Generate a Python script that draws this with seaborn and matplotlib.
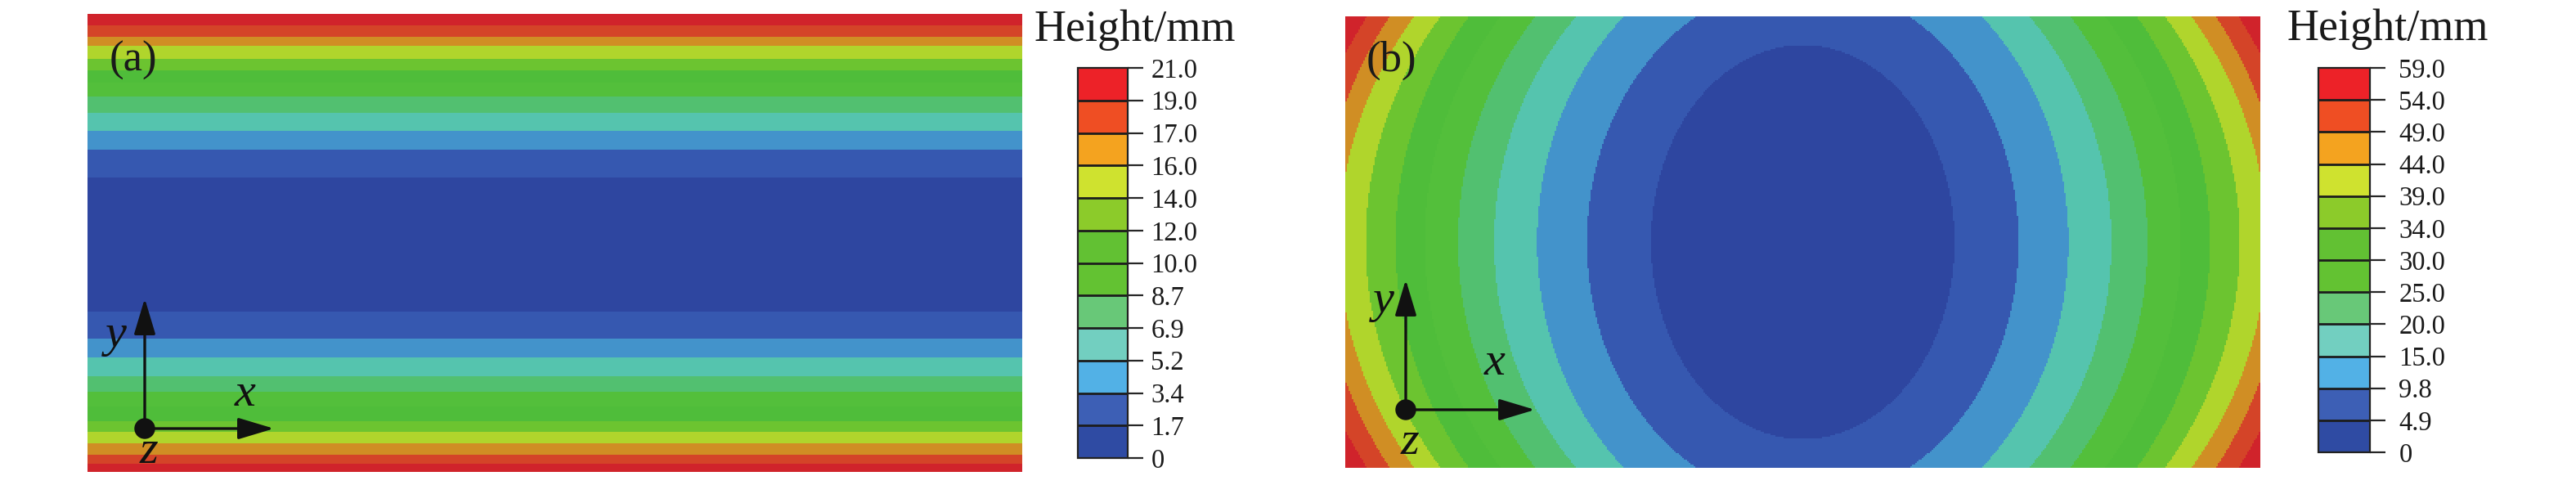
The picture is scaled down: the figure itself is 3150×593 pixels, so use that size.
import numpy as np
import matplotlib
matplotlib.use("Agg")
import matplotlib.pyplot as plt
from matplotlib.colors import ListedColormap, BoundaryNorm
from matplotlib.cm import ScalarMappable
import seaborn as sns

# ---------------- data ----------------
a_tick_labels = ["0", "1.7", "3.4", "5.2", "6.9", "8.7", "10.0", "12.0",
                 "14.0", "16.0", "17.0", "19.0", "21.0"]
b_tick_labels = ["0", "4.9", "9.8", "15.0", "20.0", "25.0", "30.0", "34.0",
                 "39.0", "44.0", "49.0", "54.0", "59.0"]

# panel (a): horizontal bands; boundaries as fraction of strip height from the top edge
a_band_edges = [0.000, 0.025, 0.050, 0.070, 0.098, 0.123, 0.150, 0.180, 0.216,
                0.255, 0.296, 0.357, 0.650, 0.709, 0.750, 0.791, 0.825, 0.857,
                0.889, 0.913, 0.938, 0.963, 0.982, 1.000]
a_band_index = [11, 10, 9, 8, 7, 6, 5, 4, 3, 2, 1, 0,
                1, 2, 3, 4, 5, 6, 7, 8, 9, 10, 11]

# panel (b): contour rings (4.9 ... 54.0 mm) as elliptical boundaries,
# semi-axes in half-panel units (x: half width, y: half height)
b_ring_semi_x = [0.333, 0.473, 0.582, 0.676, 0.755, 0.828, 0.892, 0.957, 1.015, 1.056, 1.103]
b_ring_semi_y = [0.876, 1.154, 1.357, 1.478, 1.590, 1.669, 1.752, 1.793, 1.840, 1.942, 1.998]

# colours of the 12 bands (low -> high)
map_colors = ["#2e46a0", "#3658b0", "#4393cb", "#55c4ae", "#52c070", "#53bf3b",
              "#4fbd3a", "#6cc430", "#b0d52c", "#d08e24", "#d44428", "#d0232b"]
bar_colors = ["#2f4ba3", "#3d5fb5", "#52b1e6", "#72cfc0", "#68c878", "#63c232",
              "#62c133", "#8ccb2a", "#cfe22f", "#f4a31f", "#ef4e23", "#ed2228"]

# ---------------- figure ----------------
sns.set_theme(style="white")
plt.rcParams["font.family"] = "serif"
plt.rcParams["font.serif"] = ["Liberation Serif", "DejaVu Serif"]

W, H = 3150, 593
fig = plt.figure(figsize=(W / 100, H / 100), dpi=100)


def frac(x0, y0, x1, y1):
    return [x0 / W, (H - y1) / H, (x1 - x0) / W, (y1 - y0) / H]


map_cmap = ListedColormap(map_colors)
bar_cmap = ListedColormap(bar_colors)

# panel (a)
ax_a = fig.add_axes(frac(107, 17, 1250, 577))
n_rows = 560
t = (np.arange(n_rows) + 0.5) / n_rows
pos = np.searchsorted(np.array(a_band_edges), t, side="right") - 1
pos = np.clip(pos, 0, len(a_band_index) - 1)
a_grid = np.array(a_band_index)[pos][:, None].repeat(4, axis=1)
sns.heatmap(a_grid, ax=ax_a, cmap=map_cmap, vmin=-0.5, vmax=11.5, cbar=False,
            xticklabels=False, yticklabels=False)

# panel (b)
ax_b = fig.add_axes(frac(1645, 20, 2764, 572))
xs = np.linspace(-1, 1, 560)
ys = np.linspace(-1, 1, 276)
X, Y = np.meshgrid(xs, ys)
b_grid = np.zeros_like(X, dtype=int)
for sx, sy in zip(b_ring_semi_x, b_ring_semi_y):
    b_grid += ((X / sx) ** 2 + (Y / sy) ** 2 >= 1).astype(int)
sns.heatmap(b_grid, ax=ax_b, cmap=map_cmap, vmin=-0.5, vmax=11.5, cbar=False,
            xticklabels=False, yticklabels=False)


def make_bar(box, labels, pad):
    cax = fig.add_axes(frac(*box))
    sm = ScalarMappable(norm=BoundaryNorm(np.arange(13), 12), cmap=bar_cmap)
    cb = fig.colorbar(sm, cax=cax, ticks=np.arange(13), drawedges=True)
    cb.ax.set_yticklabels(labels)
    cb.outline.set_edgecolor("#222222")
    cb.outline.set_linewidth(1.6)
    cb.dividers.set_color("#1c1c1c")
    cb.dividers.set_linewidth(2.0)
    cax.tick_params(axis="y", right=True, left=False, length=13.5, width=1.6,
                    pad=pad, labelsize=23.5, labelcolor="#1a1a1a")
    for i, tk in enumerate(cax.yaxis.get_major_ticks()):
        col = "#111111" if (12 - i) % 2 == 0 else "#777777"
        tk.tick2line.set_color(col)
    return cb


make_bar((1318, 83, 1379, 560), a_tick_labels, 7)
make_bar((2835, 83, 2898, 553), b_tick_labels, 12)

# overlay in picture pixel coordinates for labels and axis glyphs
ov = fig.add_axes([0, 0, 1, 1])
ov.set_xlim(0, W)
ov.set_ylim(H, 0)
ov.axis("off")
ov.patch.set_alpha(0)

ov.text(1265, 50, "Height/mm", fontsize=39, ha="left", va="baseline", color="#1a1a1a")
ov.text(2797, 49, "Height/mm", fontsize=39, ha="left", va="baseline", color="#1a1a1a")
ov.text(163, 74, "(a)", fontsize=38, ha="center", va="center", color="#1a1a1a")
ov.text(1701, 74, "(b)", fontsize=38, ha="center", va="center", color="#1a1a1a")


def triad(ox, oy, ytip, xtip, ylab, xlab, zlab):
    style = dict(arrowstyle="-|>,head_length=1.0,head_width=0.3", mutation_scale=27,
                 lw=2.4, color="#111111", shrinkA=0, shrinkB=0)
    ov.annotate("", xy=(ox, ytip), xytext=(ox, oy), arrowprops=style)
    ov.annotate("", xy=(xtip, oy), xytext=(ox, oy), arrowprops=style)
    ov.add_patch(plt.Circle((ox, oy), 12, color="#111111", zorder=5))
    kw = dict(fontsize=42, fontstyle="italic", ha="center", va="center", color="#111111")
    ov.text(*ylab, "y", **kw)
    ov.text(*xlab, "x", **kw)
    ov.text(*zlab, "z", **kw)


triad(177, 524, 365, 335, (142, 410), (300, 482), (182, 552))
triad(1719, 501, 342, 1877, (1692, 368), (1828, 444), (1724, 541))

fig.savefig("out.png", dpi=100)
